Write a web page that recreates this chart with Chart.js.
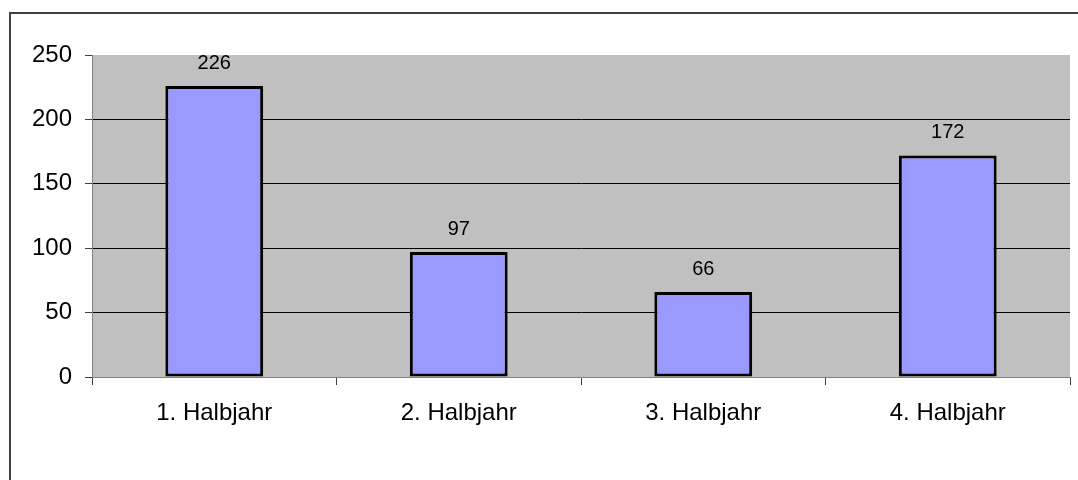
<!DOCTYPE html>
<html>
<head>
<meta charset="utf-8">
<script src="https://cdn.jsdelivr.net/npm/chart.js@4.4.1/dist/chart.umd.min.js"></script>
<style>
  html, body { margin: 0; padding: 0; background: #fff; }
  #grafica { display: block; }
</style>
</head>
<body>
<canvas id="grafica" width="1078" height="480"></canvas>
<script>
// Datos
const categorias = ["1. Halbjahr", "2. Halbjahr", "3. Halbjahr", "4. Halbjahr"];
const valores = [226, 97, 66, 172];
const ejeY = { min: 0, max: 250, paso: 50 };

const FUENTE = "'Liberation Sans', Arial, sans-serif";

// Marco exterior y fondo gris del área de trazado
const fondoPlugin = {
    id: 'fondo',
    beforeDraw(chart) {
        const { ctx, chartArea: a } = chart;
        ctx.save();
        ctx.strokeStyle = '#404040';
        ctx.lineWidth = 2;
        ctx.beginPath();
        ctx.moveTo(10, 480);
        ctx.lineTo(10, 13);
        ctx.lineTo(1078, 13);
        ctx.stroke();
        ctx.fillStyle = '#c0c0c0';
        ctx.fillRect(a.left, a.top, a.right - a.left, a.bottom - a.top);
        ctx.restore();
    }
};

// Etiquetas de valor encima de cada barra
const etiquetasPlugin = {
    id: 'etiquetas',
    afterDatasetsDraw(chart) {
        const { ctx } = chart;
        const meta = chart.getDatasetMeta(0);
        ctx.save();
        ctx.fillStyle = '#000';
        ctx.font = `20px ${FUENTE}`;
        ctx.textAlign = 'center';
        ctx.textBaseline = 'alphabetic';
        meta.data.forEach((barra, i) => {
            ctx.fillText(String(valores[i]), barra.x, barra.y - 17);
        });
        ctx.restore();
    }
};

new Chart(document.getElementById('grafica'), {
    type: 'bar',
    data: {
        labels: categorias,
        datasets: [{
            data: valores,
            backgroundColor: '#9999ff',
            borderColor: '#000',
            borderWidth: 3,
            borderSkipped: false,
            categoryPercentage: 1,
            barPercentage: 0.4
        }]
    },
    options: {
        responsive: false,
        animation: false,
        devicePixelRatio: 1,
        layout: { padding: { left: 0, top: 55, right: 8, bottom: 0 } },
        plugins: { legend: { display: false }, tooltip: { enabled: false } },
        scales: {
            x: {
                offset: true,
                grid: { drawOnChartArea: false, offset: true, tickLength: 8, tickColor: '#404040' },
                border: { color: '#808080', width: 1 },
                ticks: { color: '#000', font: { family: FUENTE, size: 24 }, padding: 14, maxRotation: 0 },
                afterFit: s => { s.height = 103; }
            },
            y: {
                min: ejeY.min,
                max: ejeY.max,
                grid: {
                    color: c => (c.tick.value === ejeY.min || c.tick.value === ejeY.max) ? 'rgba(0,0,0,0)' : '#000',
                    tickColor: '#404040',
                    tickLength: 7,
                    lineWidth: 1
                },
                border: { color: '#808080', width: 1 },
                ticks: { stepSize: ejeY.paso, color: '#000', font: { family: FUENTE, size: 24 }, padding: 13 },
                afterFit: s => { s.width = 92; }
            }
        }
    },
    plugins: [fondoPlugin, etiquetasPlugin]
});
</script>
</body>
</html>
